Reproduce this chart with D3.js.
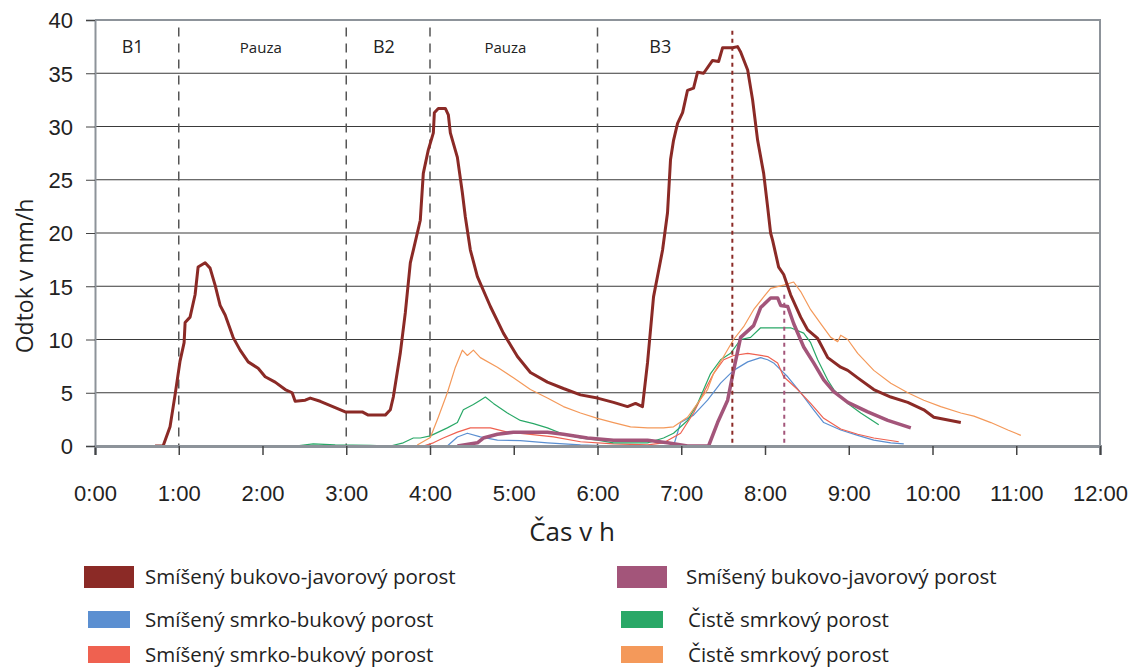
<!DOCTYPE html>
<html>
<head>
<meta charset="utf-8">
<script src="https://cdn.jsdelivr.net/npm/d3@7"></script>
<style>
  body { margin: 0; background: #fff; }
  .tick text { font-family: 'Liberation Sans', Arial, sans-serif; font-size: 22px; fill: #222; }
  .lbl { font-family: 'Open Sans', 'Noto Sans', sans-serif; fill: #222; }
</style>
</head>
<body>
<div id="chart"></div>
<script>
// time in hours, runoff in mm/h
const bukJavor1T = [0.717, 0.813, 0.896, 0.956, 1.016, 1.064, 1.076, 1.135, 1.195, 1.231, 1.315, 1.374, 1.434, 1.494, 1.554, 1.649, 1.733, 1.829, 1.948, 2.032, 2.151, 2.271, 2.354, 2.39, 2.51, 2.57, 2.689, 2.868, 2.988, 3.191, 3.263, 3.466, 3.526, 3.562, 3.645, 3.705, 3.765, 3.801, 3.884, 3.92, 3.98, 4.04, 4.052, 4.099, 4.183, 4.219, 4.243, 4.327, 4.386, 4.422, 4.482, 4.566, 4.721, 4.876, 5.044, 5.199, 5.402, 5.593, 5.797, 6.0, 6.191, 6.358, 6.454, 6.537, 6.597, 6.669, 6.777, 6.836, 6.872, 6.908, 6.956, 7.016, 7.075, 7.147, 7.195, 7.267, 7.374, 7.446, 7.494, 7.613, 7.673, 7.709, 7.793, 7.852, 7.912, 7.984, 8.032, 8.067, 8.091, 8.163, 8.223, 8.306, 8.426, 8.51, 8.629, 8.749, 8.904, 8.988, 9.107, 9.299, 9.502, 9.705, 9.896, 10.016, 10.338]
const bukJavor1V = [0, 0, 1.8, 4.8, 8.0, 9.7, 11.6, 12.1, 14.2, 16.8, 17.2, 16.7, 15.1, 13.2, 12.3, 10.2, 9.0, 7.9, 7.3, 6.5, 6.0, 5.3, 5.0, 4.2, 4.3, 4.5, 4.2, 3.6, 3.2, 3.2, 2.9, 2.9, 3.4, 4.6, 8.7, 12.5, 17.2, 18.4, 21.2, 25.6, 27.8, 29.4, 31.3, 31.7, 31.7, 31.1, 29.4, 27.1, 23.8, 21.5, 18.4, 15.9, 13.1, 10.6, 8.4, 6.9, 6.0, 5.4, 4.8, 4.5, 4.1, 3.7, 4.0, 3.7, 7.8, 14.0, 18.4, 21.9, 26.9, 28.7, 30.3, 31.3, 33.4, 33.6, 35.1, 35.0, 36.2, 36.1, 37.4, 37.4, 37.5, 37.0, 35.3, 32.5, 28.7, 25.6, 22.4, 20.0, 19.3, 16.8, 16.1, 14.2, 12.1, 10.9, 10.1, 8.3, 7.4, 7.1, 6.4, 5.3, 4.6, 4.1, 3.4, 2.7, 2.2]

const smrkBuk1T = [4.207, 4.327, 4.446, 4.601, 4.805, 5.079, 5.402, 5.797, 6.191, 6.908, 6.992, 7.147, 7.314, 7.47, 7.625, 7.793, 7.948, 8.032, 8.103, 8.271, 8.426, 8.581, 8.701, 8.904, 9.107, 9.299, 9.502, 9.657]
const smrkBuk1V = [0, 0.85, 1.2, 0.85, 0.55, 0.5, 0.3, 0.1, 0, 0, 2.2, 2.9, 4.3, 5.9, 7.1, 7.9, 8.3, 8.1, 7.8, 6.5, 5.0, 3.4, 2.2, 1.5, 1.0, 0.55, 0.3, 0.2]

const smrkBuk2T = [3.92, 4.04, 4.159, 4.327, 4.482, 4.721, 4.924, 5.199, 5.474, 5.797, 6.191, 6.597, 6.789, 6.992, 7.147, 7.267, 7.386, 7.506, 7.625, 7.793, 8.032, 8.151, 8.223, 8.39, 8.545, 8.701, 8.904, 9.107, 9.299, 9.597]
const smrkBuk2V = [0, 0.3, 0.75, 1.3, 1.7, 1.7, 1.3, 1.1, 0.85, 0.4, 0.2, 0.1, 0.3, 1.2, 3.1, 5.0, 6.8, 8.1, 8.5, 8.7, 8.4, 7.8, 6.5, 5.3, 4.0, 2.6, 1.6, 1.1, 0.75, 0.4]

const smrk1T = [2.39, 2.606, 2.868, 3.287, 3.526, 3.681, 3.801, 3.884, 4.004, 4.207, 4.327, 4.398, 4.518, 4.601, 4.661, 4.757, 4.924, 5.079, 5.235, 5.402, 5.593, 5.797, 6.0, 6.191, 6.597, 6.789, 6.908, 7.075, 7.195, 7.35, 7.47, 7.589, 7.709, 7.828, 7.948, 8.306, 8.462, 8.545, 8.629, 8.749, 8.821, 8.988, 9.143, 9.299, 9.358]
const smrk1V = [0, 0.2, 0.1, 0.05, 0, 0.3, 0.75, 0.75, 0.95, 1.7, 2.2, 3.4, 3.9, 4.3, 4.6, 4.0, 3.1, 2.4, 2.1, 1.7, 1.1, 0.75, 0.55, 0.3, 0.3, 0.75, 1.2, 2.4, 4.0, 6.8, 8.1, 8.7, 10.0, 10.2, 11.1, 11.1, 10.6, 9.7, 8.1, 6.2, 5.3, 4.0, 3.1, 2.3, 2.0]

const smrk2T = [3.848, 4.004, 4.099, 4.207, 4.303, 4.386, 4.446, 4.518, 4.601, 4.805, 4.996, 5.199, 5.402, 5.593, 5.797, 6.0, 6.191, 6.394, 6.597, 6.789, 6.908, 7.075, 7.195, 7.314, 7.386, 7.506, 7.625, 7.745, 7.864, 7.984, 8.067, 8.223, 8.342, 8.426, 8.545, 8.665, 8.785, 8.868, 8.904, 8.988, 9.107, 9.299, 9.502, 9.705, 9.896, 10.099, 10.338, 10.494, 10.697, 10.9, 11.055]
const smrk2V = [0.1, 0.8, 2.7, 5.0, 7.4, 9.0, 8.5, 9.0, 8.3, 7.4, 6.4, 5.3, 4.5, 3.7, 3.1, 2.6, 2.2, 1.8, 1.7, 1.7, 1.8, 2.7, 4.0, 5.3, 6.8, 8.4, 10.0, 11.2, 12.8, 14.0, 14.8, 15.1, 15.4, 14.5, 12.8, 11.5, 10.2, 9.8, 10.4, 10.0, 8.7, 7.1, 5.9, 5.0, 4.3, 3.7, 3.1, 2.8, 2.2, 1.5, 1.0]

const bukJavor2T = [4.327, 4.566, 4.637, 4.805, 4.996, 5.402, 5.593, 5.88, 6.191, 6.597, 6.836, 7.075, 7.326, 7.434, 7.554, 7.625, 7.709, 7.864, 7.948, 8.067, 8.151, 8.187, 8.271, 8.342, 8.462, 8.581, 8.701, 8.821, 8.988, 9.227, 9.466, 9.741]
const bukJavor2V = [0, 0.3, 0.75, 1.1, 1.3, 1.3, 1.1, 0.75, 0.55, 0.55, 0.3, 0, 0, 2.2, 4.3, 7.1, 10.2, 11.3, 13.0, 13.9, 13.9, 13.2, 13.1, 11.5, 9.3, 7.8, 6.2, 5.1, 4.1, 3.2, 2.4, 1.7]

const seriesNames = ['Smíšený bukovo-javorový porost', 'Smíšený smrko-bukový porost', 'Smíšený smrko-bukový porost',
  'Smíšený bukovo-javorový porost', 'Čistě smrkový porost', 'Čistě smrkový porost']
const seriesColors = ['#8b2a26', '#5b8fd1', '#ef6150', '#a3557a', '#29a867', '#f4995a']

const phaseBreaks = [1, 3, 4, 6]
const phaseLabels = ['B1', 'Pauza', 'B2', 'Pauza', 'B3']
const phaseLabelAt = [0.45, 1.98, 3.45, 4.9, 6.75]
const peakTimes = [7.61, 8.23]
const peakTop = [39, 14.2]

const xTicks = d3.range(0, 13)
const yTicks = d3.range(0, 41, 5)

const width = 1132
const height = 672
const margin = { top: 20, right: 32, bottom: 226, left: 95 }

const x = d3.scaleLinear().domain([0, 12]).range([margin.left, width - margin.right])
const y = d3.scaleLinear().domain([0, 40]).range([height - margin.bottom, margin.top])

const svg = d3.select('#chart').append('svg')
  .attr('width', width)
  .attr('height', height)
  .style('font-family', 'Open Sans, sans-serif')

// gridlines
svg.append('g')
  .selectAll('line')
  .data(yTicks.filter(d => d > 0 && d < 40))
  .enter().append('line')
  .attr('x1', x(0)).attr('x2', x(12))
  .attr('y1', d => y(d)).attr('y2', d => y(d))
  .attr('stroke', '#3a3a3a')
  .attr('stroke-width', 1)

// plot frame (top, right)
svg.append('path')
  .attr('d', `M${x(0)},${y(40)}H${x(12)}V${y(0)}`)
  .attr('fill', 'none')
  .attr('stroke', '#8d939a')
  .attr('stroke-width', 2)

// phase separators
svg.append('g')
  .selectAll('line')
  .data(phaseBreaks)
  .enter().append('line')
  .attr('x1', d => x(d)).attr('x2', d => x(d))
  .attr('y1', y(39.3)).attr('y2', y(0))
  .attr('stroke', '#555')
  .attr('stroke-width', 1.5)
  .attr('stroke-dasharray', '9,7')

svg.append('g')
  .selectAll('text')
  .data(phaseLabels)
  .enter().append('text')
  .attr('class', 'lbl')
  .attr('x', (d, i) => x(phaseLabelAt[i]))
  .attr('y', 53)
  .attr('text-anchor', 'middle')
  .style('font-size', d => d === 'Pauza' ? '15px' : '18px')
  .text(d => d)

// series
const seriesT = [bukJavor1T, smrkBuk1T, smrkBuk2T, bukJavor2T, smrk1T, smrk2T]
const seriesV = [bukJavor1V, smrkBuk1V, smrkBuk2V, bukJavor2V, smrk1V, smrk2V]
const seriesWidth = [3, 1.2, 1.2, 3.5, 1.2, 1.2]
const drawOrder = [1, 2, 4, 5, 3, 0]

const line = d3.line()
  .x(d => x(d[0]))
  .y(d => y(d[1]))

drawOrder.forEach(function (i) {
  const pts = seriesT[i].map((t, k) => [t, seriesV[i][k]])
  svg.append('path')
    .datum(pts)
    .attr('d', line)
    .attr('fill', 'none')
    .attr('stroke', seriesColors[i])
    .attr('stroke-width', seriesWidth[i])
    .attr('stroke-linejoin', 'round')
})

// peak markers
svg.append('g')
  .selectAll('line')
  .data(peakTimes)
  .enter().append('line')
  .attr('x1', d => x(d)).attr('x2', d => x(d))
  .attr('y1', (d, i) => y(peakTop[i])).attr('y2', y(0))
  .attr('stroke', (d, i) => i === 0 ? '#8b2a26' : '#a3557a')
  .attr('stroke-width', 2)
  .attr('stroke-dasharray', '4,4')

// axes
const xAxis = svg.append('g')
  .attr('transform', `translate(0,${y(0)})`)
  .call(d3.axisBottom(x).tickValues(xTicks).tickFormat(d => d + ':00').tickSize(9).tickPadding(30))
xAxis.select('.domain').attr('stroke', '#8d939a').attr('stroke-width', 3)
xAxis.selectAll('.tick line').attr('stroke', '#444').attr('stroke-width', 1.5)

const yAxis = svg.append('g')
  .attr('transform', `translate(${x(0)},0)`)
  .call(d3.axisLeft(y).tickValues(yTicks).tickSize(9).tickPadding(13))
yAxis.select('.domain').attr('stroke', '#8d939a').attr('stroke-width', 2)
yAxis.selectAll('.tick line').attr('stroke', '#444')
yAxis.selectAll('.tick text').attr('dy', '0.36em')

svg.append('text')
  .attr('class', 'lbl')
  .attr('transform', 'translate(33,276) rotate(-90)')
  .attr('text-anchor', 'middle')
  .style('font-size', '23px')
  .text('Odtok v mm/h')

svg.append('text')
  .attr('class', 'lbl')
  .attr('x', 572)
  .attr('y', 541)
  .attr('text-anchor', 'middle')
  .style('font-size', '26px')
  .text('Čas v h')

// legend: left column = first three series, right column = last three
const legendX = [84, 84, 84, 617, 617, 617]
const legendTextX = [145, 145, 145, 686, 688, 688]
const legendRow = [0, 1, 2, 0, 1, 2]
const legendTop = [566, 611, 646]
const legendSize = [[50, 22], [42, 17], [42, 17]]

const legend = svg.append('g')
seriesNames.forEach(function (name, i) {
  const r = legendRow[i]
  const [w, h] = legendSize[r]
  const sx = legendX[i] + (50 - w) / 2
  legend.append('rect')
    .attr('x', sx).attr('y', legendTop[r])
    .attr('width', w).attr('height', h)
    .attr('fill', seriesColors[i])
  legend.append('text')
    .attr('class', 'lbl')
    .attr('x', legendTextX[i])
    .attr('y', legendTop[r] + h / 2 + 7)
    .style('font-size', '20.5px')
    .text(name)
})
</script>
</body>
</html>
